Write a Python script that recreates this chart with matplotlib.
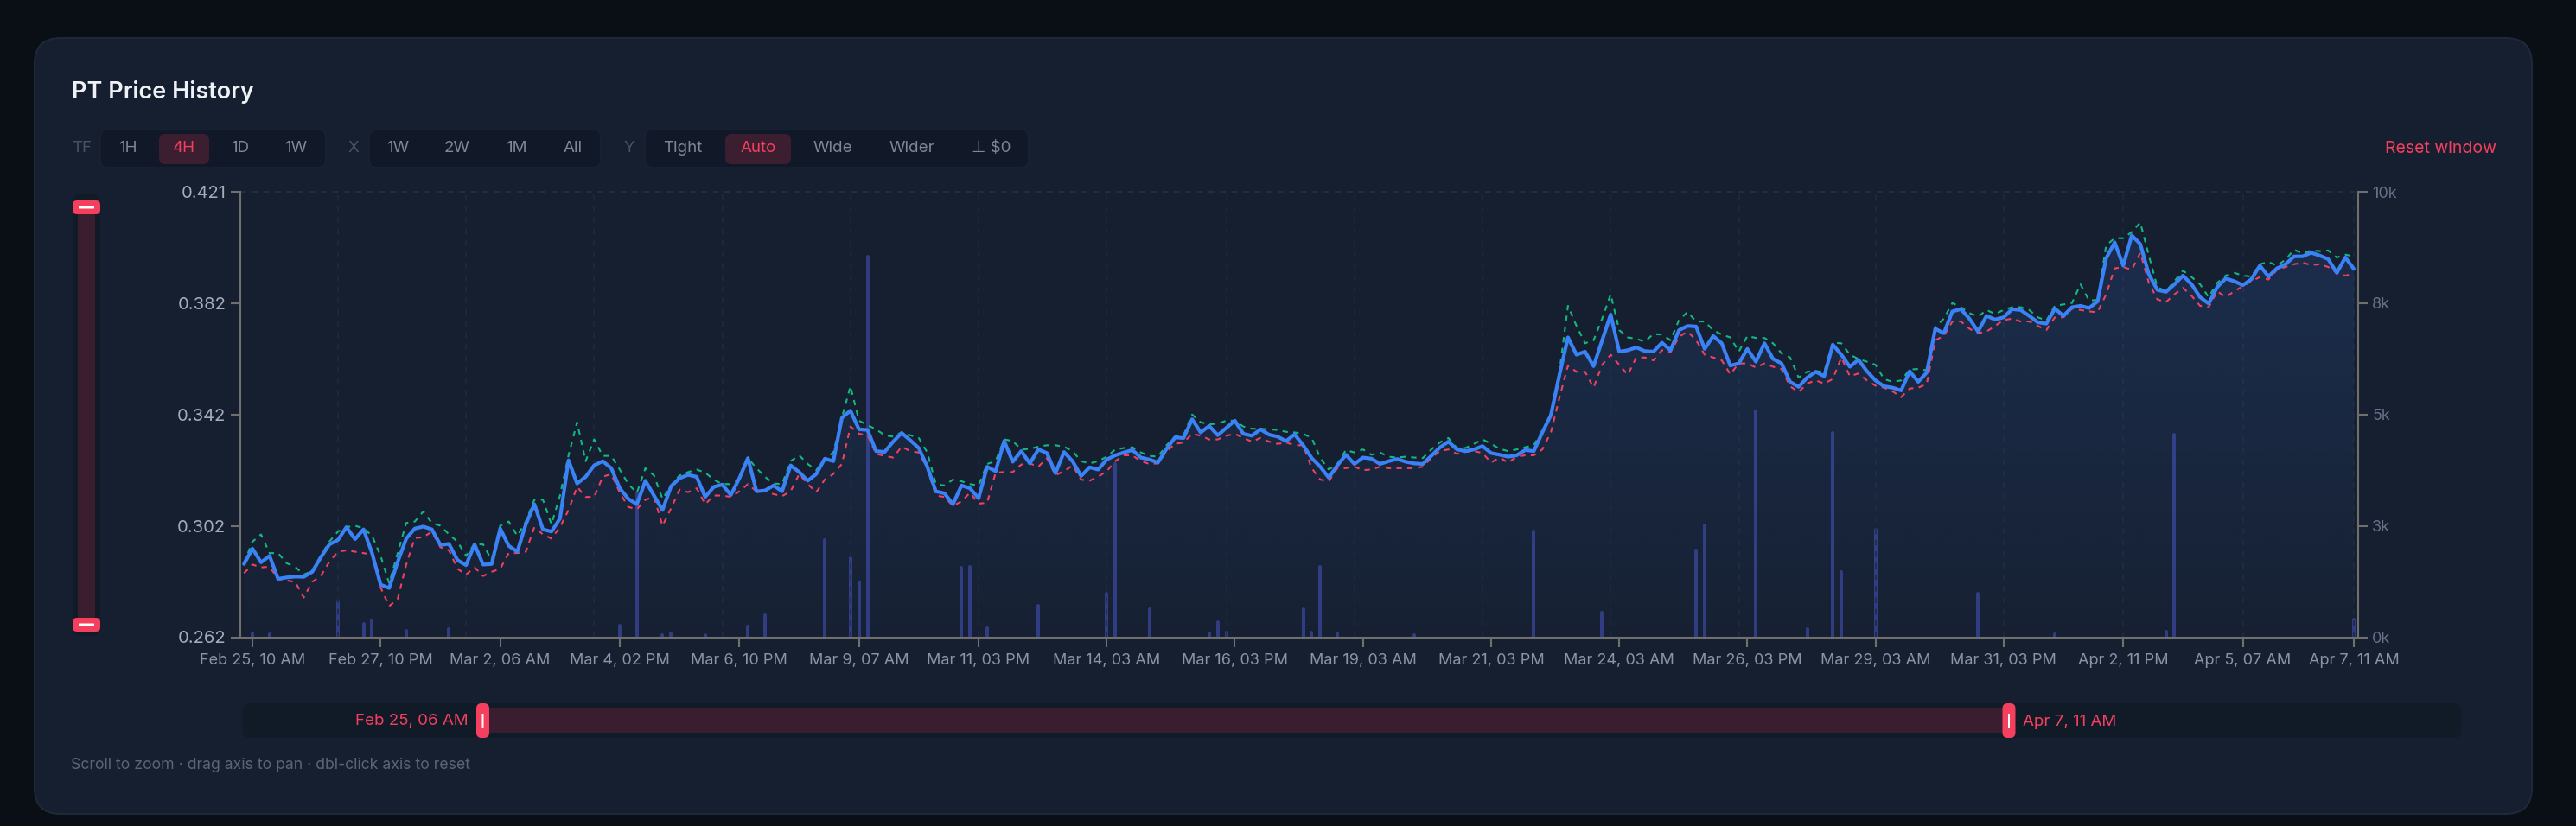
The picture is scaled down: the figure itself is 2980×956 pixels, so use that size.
import numpy as np
import pandas as pd
import matplotlib
matplotlib.use("Agg")
import matplotlib.pyplot as plt
from matplotlib.patches import FancyBboxPatch
from datetime import datetime

plt.rcParams['font.family'] = ['Inter', 'DejaVu Sans']

# ---------------- data ----------------
title = "PT Price History"
tz = "America/New_York"
start_time = "2025-02-25 06:00"   # first 4H candle
interval = "4h"

close = [
    0.2882, 0.2937, 0.2888, 0.2911, 0.2829, 0.2834, 0.2837, 0.2836, 0.2854, 0.2906,
    0.2952, 0.2968, 0.3014, 0.2971, 0.3006, 0.2921, 0.2808, 0.2796, 0.2890, 0.2973,
    0.3009, 0.3016, 0.3006, 0.2950, 0.2954, 0.2896, 0.2878, 0.2952, 0.2880, 0.2882,
    0.3009, 0.2947, 0.2926, 0.3024, 0.3096, 0.3006, 0.2998, 0.3045, 0.3253, 0.3170,
    0.3194, 0.3235, 0.3250, 0.3225, 0.3153, 0.3115, 0.3096, 0.3180, 0.3127, 0.3075,
    0.3160, 0.3189, 0.3201, 0.3194, 0.3122, 0.3158, 0.3166, 0.3129, 0.3189, 0.3261,
    0.3142, 0.3145, 0.3163,
    0.3142, 0.3235, 0.3211, 0.3180, 0.3204, 0.3259, 0.3250, 0.3405, 0.3431, 0.3364,
    0.3362, 0.3286, 0.3283, 0.3320, 0.3351, 0.3325, 0.3297, 0.3230, 0.3142, 0.3135,
    0.3096, 0.3163, 0.3153, 0.3117, 0.3230, 0.3214, 0.3322, 0.3248, 0.3286, 0.3242,
    0.3292, 0.3279, 0.3207, 0.3283, 0.3250, 0.3197, 0.3228, 0.3220, 0.3256, 0.3271,
    0.3281, 0.3290, 0.3263, 0.3256, 0.3245, 0.3294, 0.3335, 0.3333, 0.3400, 0.3353,
    0.3376, 0.3343, 0.3369, 0.3395, 0.3348, 0.3341, 0.3364, 0.3345, 0.3338, 0.3322,
    0.3346, 0.3307,
    0.3261, 0.3230, 0.3191, 0.3235, 0.3273, 0.3240, 0.3263, 0.3259, 0.3240, 0.3250,
    0.3258, 0.3248, 0.3242, 0.3240, 0.3269, 0.3299, 0.3320, 0.3292, 0.3286, 0.3292,
    0.3304, 0.3279, 0.3273, 0.3266, 0.3271, 0.3290, 0.3286, 0.3353, 0.3415, 0.3559,
    0.3693, 0.3631, 0.3642, 0.3590, 0.3683, 0.3775, 0.3642, 0.3647, 0.3657, 0.3644,
    0.3642, 0.3674, 0.3647, 0.3719, 0.3734, 0.3732, 0.3652, 0.3698, 0.3672, 0.3592,
    0.3600, 0.3652, 0.3606, 0.3672, 0.3616, 0.3600, 0.3534, 0.3516, 0.3549, 0.3570,
    0.3554,
    0.3667, 0.3631, 0.3588, 0.3613, 0.3572, 0.3539, 0.3518, 0.3513, 0.3503, 0.3572,
    0.3534, 0.3567, 0.3724, 0.3708, 0.3786, 0.3794, 0.3760, 0.3714, 0.3770, 0.3757,
    0.3765, 0.3794, 0.3791, 0.3770, 0.3747, 0.3742, 0.3796, 0.3770, 0.3801, 0.3806,
    0.3798, 0.3822, 0.3976, 0.4033, 0.3950, 0.4058, 0.4027, 0.3919, 0.3863, 0.3856,
    0.3883, 0.3914, 0.3883, 0.3837, 0.3814, 0.3873, 0.3904, 0.3894, 0.3880, 0.3901,
    0.3950, 0.3911, 0.3940, 0.3955, 0.3983, 0.3983, 0.3996, 0.3986, 0.3973, 0.3924,
    0.3979, 0.3938,
]

high = [
    0.2885, 0.2962, 0.2988, 0.2921, 0.2921, 0.2885, 0.2872, 0.2844, 0.2857, 0.2911,
    0.2962, 0.2998, 0.3014, 0.3019, 0.3010, 0.2983, 0.2911, 0.2813, 0.2921, 0.3029,
    0.3034, 0.3070, 0.3029, 0.3019, 0.2988, 0.2962, 0.2911, 0.2954, 0.2952, 0.2896,
    0.3019, 0.3034, 0.2983, 0.3034, 0.3112, 0.3112, 0.3024, 0.3127, 0.3271, 0.3389,
    0.3250, 0.3328, 0.3269, 0.3269, 0.3220, 0.3168, 0.3137, 0.3225, 0.3199, 0.3115,
    0.3163, 0.3199, 0.3211, 0.3220, 0.3209, 0.3184, 0.3168, 0.3168, 0.3184, 0.3261,
    0.3225, 0.3194, 0.3170,
    0.3168, 0.3250, 0.3271, 0.3240, 0.3218, 0.3259, 0.3281, 0.3405, 0.3518, 0.3395,
    0.3379, 0.3364, 0.3343, 0.3338, 0.3353, 0.3343, 0.3333, 0.3281, 0.3168, 0.3163,
    0.3184, 0.3178, 0.3168, 0.3163, 0.3240, 0.3250, 0.3328, 0.3322, 0.3292, 0.3294,
    0.3302, 0.3307, 0.3307, 0.3302, 0.3286, 0.3250, 0.3242, 0.3250, 0.3266, 0.3292,
    0.3297, 0.3300, 0.3281, 0.3269, 0.3266, 0.3307, 0.3338, 0.3343, 0.3417, 0.3389,
    0.3382, 0.3384, 0.3395, 0.3395, 0.3374, 0.3366, 0.3366, 0.3364, 0.3362, 0.3355,
    0.3353, 0.3348,
    0.3333, 0.3261, 0.3220, 0.3240, 0.3290, 0.3281, 0.3292, 0.3273, 0.3281, 0.3266,
    0.3263, 0.3266, 0.3263, 0.3261, 0.3292, 0.3317, 0.3333, 0.3297, 0.3297, 0.3312,
    0.3328, 0.3312, 0.3294, 0.3286, 0.3292, 0.3300, 0.3307, 0.3360, 0.3415, 0.3570,
    0.3806, 0.3734, 0.3672, 0.3683, 0.3760, 0.3847, 0.3719, 0.3693, 0.3688, 0.3678,
    0.3705, 0.3703, 0.3683, 0.3755, 0.3784, 0.3750, 0.3750, 0.3719, 0.3703, 0.3693,
    0.3642, 0.3698, 0.3691, 0.3691, 0.3672, 0.3636, 0.3621, 0.3549, 0.3570, 0.3572,
    0.3570,
    0.3674, 0.3672, 0.3631, 0.3616, 0.3606, 0.3595, 0.3544, 0.3534, 0.3539, 0.3578,
    0.3580, 0.3575, 0.3729, 0.3760, 0.3816, 0.3801, 0.3780, 0.3767, 0.3791, 0.3777,
    0.3791, 0.3801, 0.3801, 0.3791, 0.3765, 0.3753, 0.3806, 0.3811, 0.3816, 0.3883,
    0.3825, 0.3827, 0.4022, 0.4048, 0.4048, 0.4070, 0.4104, 0.3986, 0.3873, 0.3858,
    0.3894, 0.3932, 0.3909, 0.3883, 0.3837, 0.3888, 0.3914, 0.3924, 0.3914, 0.3911,
    0.3955, 0.3963, 0.3950, 0.3971, 0.4007, 0.3993, 0.4004, 0.4002, 0.4004, 0.3979,
    0.3989, 0.3983,
]

low = [
    0.2849, 0.2880, 0.2870, 0.2872, 0.2829, 0.2823, 0.2818, 0.2762, 0.2818, 0.2839,
    0.2890, 0.2926, 0.2931, 0.2926, 0.2921, 0.2916, 0.2798, 0.2731, 0.2757, 0.2880,
    0.2975, 0.2978, 0.2998, 0.2942, 0.2931, 0.2865, 0.2844, 0.2870, 0.2839, 0.2854,
    0.2865, 0.2921, 0.2921, 0.2926, 0.3014, 0.2988, 0.2973, 0.3014, 0.3075, 0.3158,
    0.3122, 0.3122, 0.3194, 0.3204, 0.3137, 0.3086, 0.3078, 0.3112, 0.3122, 0.3019,
    0.3081, 0.3148, 0.3139, 0.3153, 0.3096, 0.3127, 0.3127, 0.3122, 0.3142, 0.3168,
    0.3142, 0.3142, 0.3132,
    0.3125, 0.3142, 0.3204, 0.3168, 0.3139, 0.3184, 0.3204, 0.3240, 0.3374, 0.3348,
    0.3343, 0.3276, 0.3269, 0.3263, 0.3302, 0.3286, 0.3281, 0.3225, 0.3127, 0.3122,
    0.3090, 0.3106, 0.3137, 0.3098, 0.3101, 0.3209, 0.3211, 0.3211, 0.3238, 0.3242,
    0.3230, 0.3261, 0.3200, 0.3214, 0.3235, 0.3184, 0.3180, 0.3194, 0.3214, 0.3250,
    0.3271, 0.3271, 0.3250, 0.3240, 0.3242, 0.3285, 0.3312, 0.3317, 0.3348, 0.3341,
    0.3328, 0.3328, 0.3341, 0.3348, 0.3333, 0.3320, 0.3333, 0.3320, 0.3312, 0.3317,
    0.3307, 0.3307,
    0.3225, 0.3184, 0.3178, 0.3225, 0.3225, 0.3230, 0.3218, 0.3220, 0.3230, 0.3225,
    0.3225, 0.3225, 0.3225, 0.3230, 0.3261, 0.3286, 0.3292, 0.3276, 0.3283, 0.3286,
    0.3279, 0.3245, 0.3263, 0.3245, 0.3266, 0.3271, 0.3271, 0.3292, 0.3353, 0.3477,
    0.3592, 0.3570, 0.3570, 0.3513, 0.3595, 0.3631, 0.3595, 0.3559, 0.3621, 0.3621,
    0.3611, 0.3647, 0.3640, 0.3695, 0.3714, 0.3683, 0.3631, 0.3621, 0.3611, 0.3561,
    0.3600, 0.3600, 0.3585, 0.3600, 0.3588, 0.3580, 0.3518, 0.3497, 0.3528, 0.3539,
    0.3528,
    0.3544, 0.3621, 0.3554, 0.3564, 0.3539, 0.3520, 0.3513, 0.3500, 0.3479, 0.3510,
    0.3513, 0.3526, 0.3683, 0.3698, 0.3750, 0.3750, 0.3724, 0.3708, 0.3714, 0.3734,
    0.3755, 0.3760, 0.3750, 0.3750, 0.3734, 0.3719, 0.3765, 0.3765, 0.3796, 0.3791,
    0.3786, 0.3783, 0.3847, 0.3940, 0.3945, 0.3935, 0.3996, 0.3888, 0.3829, 0.3819,
    0.3847, 0.3870, 0.3842, 0.3806, 0.3801, 0.3858, 0.3837, 0.3858, 0.3876, 0.3894,
    0.3909, 0.3900, 0.3935, 0.3945, 0.3955, 0.3960, 0.3952, 0.3955, 0.3945, 0.3924,
    0.3914, 0.3921,
]

# volume: candle index -> traded volume (all other candles ~0)
volume_candle = [1, 3, 11, 14, 15, 19, 24, 44, 46, 49, 50, 54, 59, 61, 68, 71, 72, 73,
                 84, 85, 87, 93, 101, 102, 106, 113, 114, 115, 124, 125, 126, 128, 137,
                 151, 159, 170, 171, 177, 183, 186, 187, 191, 203, 212, 225, 226, 247]
volume_value = [80, 60, 790, 310, 370, 145, 180, 270, 3250, 50, 90, 50, 240, 500, 2180,
                1770, 1240, 8550, 1570, 1580, 210, 710, 970, 3880, 630, 90, 330, 110,
                630, 110, 1580, 80, 40, 2380, 550, 1940, 2510, 5070, 180, 4580, 1470,
                2420, 970, 70, 130, 4550, 390]

x_tick_labels = ["Feb 25, 10 AM", "Feb 27, 10 PM", "Mar 2, 06 AM", "Mar 4, 02 PM",
                 "Mar 6, 10 PM", "Mar 9, 07 AM", "Mar 11, 03 PM", "Mar 14, 03 AM",
                 "Mar 16, 03 PM", "Mar 19, 03 AM", "Mar 21, 03 PM", "Mar 24, 03 AM",
                 "Mar 26, 03 PM", "Mar 29, 03 AM", "Mar 31, 03 PM", "Apr 2, 11 PM",
                 "Apr 5, 07 AM", "Apr 7, 11 AM"]
price_range = (0.2620, 0.4214)
volume_range = (0, 10000)
volume_ticks = [0, 2500, 5000, 7500, 10000]
volume_tick_labels = ["0k", "3k", "5k", "8k", "10k"]
grid_hours = [44, 104, 164, 224, 284, 344, 404, 460, 520, 580, 640, 700, 764, 824, 880, 936, 988]

tf_buttons = ["1H", "4H", "1D", "1W"]
x_buttons = ["1W", "2W", "1M", "All"]
y_buttons = ["Tight", "Auto", "Wide", "Wider", "\u22a5 $0"]

# ---------------- colours ----------------
PAGE = "#0a0e15"
CARD = "#161f2f"
GROUP = "#111827"
ACTIVE_BG = "#3b1e2f"
RED = "#f43f5e"
GREEN = "#10b981"
BLUE = "#3b82f6"
AXIS = "#6f6f6f"
VOL = "#313c80"

W, H = 2980, 956
fig = plt.figure(figsize=(W / 100, H / 100), dpi=100)
fig.patch.set_facecolor(PAGE)


def box(x0, y0, x1, y1, r, fc, ec="none", lw=0, z=-5):
    p = FancyBboxPatch((x0 / 100, (H - y1) / 100), (x1 - x0) / 100, (y1 - y0) / 100,
                       boxstyle=f"round,pad=0,rounding_size={r / 100}",
                       transform=fig.dpi_scale_trans, fc=fc, ec=ec, lw=lw, zorder=z)
    fig.add_artist(p)
    return p


def text(x, y, s, **kw):
    kw.setdefault("va", "center")
    kw.setdefault("zorder", 20)
    return fig.text(x / W, 1 - y / H, s, **kw)


# card
box(40, 44, 2929, 942, 30, CARD, ec="#1e2839", lw=1.5, z=-10)

# title
text(83, 107, title, fontsize=19.5, color="#eef2f7", weight="semibold", ha="left")

# controls row
CY = 172
BTN = dict(fontsize=13.5, color="#7d879a", ha="center")
text(95, CY, "TF", fontsize=13.5, color="#485266", ha="center")
box(116, 150, 377, 194, 9, GROUP, ec="#1a2335", lw=1)
box(184, 155, 242, 190, 7, ACTIVE_BG)
for lab, cx in zip(tf_buttons, [148, 213, 278, 342]):
    text(cx, CY, lab, **dict(BTN, color=RED if lab == "4H" else BTN["color"]))
text(409, CY, "X", fontsize=13.5, color="#485266", ha="center")
box(427, 150, 695, 194, 9, GROUP, ec="#1a2335", lw=1)
for lab, cx in zip(x_buttons, [460, 529, 597, 663]):
    text(cx, CY, lab, **BTN)
text(728, CY, "Y", fontsize=13.5, color="#485266", ha="center")
box(746, 150, 1190, 194, 9, GROUP, ec="#1a2335", lw=1)
box(839, 155, 915, 190, 7, ACTIVE_BG)
for lab, cx in zip(y_buttons, [790, 877, 963, 1055, 1147]):
    text(cx, CY, lab, **dict(BTN, color=RED if lab == "Auto" else BTN["color"]))
text(2888, CY, "Reset window", fontsize=14, color=RED, ha="right")

# ---------------- main chart ----------------
times = pd.date_range(start_time, periods=len(close), freq=interval, tz=tz)
hrs = ((times - times[0]) / pd.Timedelta(hours=1)).to_numpy(dtype=float)
tick_times = [pd.Timestamp(datetime.strptime("2025 " + s, "%Y %b %d, %I %p")).tz_localize(tz)
              for s in x_tick_labels]
tick_hrs = [(t - times[0]) / pd.Timedelta(hours=1) for t in tick_times]

L, R, T, B = 278, 2727.7, 222, 737.5
ax = fig.add_axes([L / W, (H - B) / H, (R - L) / W, (B - T) / H])
ax2 = ax.twinx()
ax.set_zorder(2)
ax2.set_zorder(1)
ax.patch.set_visible(False)
ax2.patch.set_visible(False)

xlim = (-1.7, 989.9)
ax.set_xlim(*xlim)
ax.set_ylim(*price_range)
ax2.set_ylim(*volume_range)

# volume bars
vx = hrs[volume_candle]
vl = ax2.vlines(vx, 0, volume_value, colors=VOL, linewidth=2.9)
vl.set_capstyle("round")

# grid
for gh in grid_hours:
    ax.axvline(gh, color="#1e293c", lw=1.2, ls=(0, (4, 4)), zorder=0)
ax.axhline(price_range[1], color="#25314a", lw=1.2, ls=(0, (4, 4)), zorder=0, clip_on=False)

# gradient area under close
fill = ax.fill_between(hrs, close, price_range[0], color="none", lw=0)
alpha = np.linspace(0.17, 0.02, 256)
rgba = np.zeros((256, 1, 4))
rgba[:, 0, 0] = 59 / 255
rgba[:, 0, 1] = 130 / 255
rgba[:, 0, 2] = 246 / 255
rgba[:, 0, 3] = alpha
im = ax.imshow(rgba, extent=[xlim[0], xlim[1], price_range[0], price_range[1]],
               aspect="auto", origin="upper", zorder=1, interpolation="bilinear")
im.set_clip_path(fill.get_paths()[0], transform=ax.transData)

# lines
ax.plot(hrs, high, color=GREEN, lw=1.5, ls=(0, (3, 3)), zorder=3)
ax.plot(hrs, low, color=RED, lw=1.5, ls=(0, (3, 3)), zorder=3)
ax.plot(hrs, close, color=BLUE, lw=3.0, zorder=4, solid_joinstyle="round",
        solid_capstyle="round")

ax.set_xlim(*xlim)
ax.set_ylim(*price_range)

# axes styling
for s in ["top", "right"]:
    ax.spines[s].set_visible(False)
for s in ["top", "left", "bottom"]:
    ax2.spines[s].set_visible(False)
for sp in [ax.spines["left"], ax.spines["bottom"], ax2.spines["right"]]:
    sp.set_color(AXIS)
    sp.set_linewidth(1.5)

yt = np.linspace(price_range[0], price_range[1], 5)
ax.set_yticks(yt)
ax.set_yticklabels([f"{v:.3f}" for v in yt])
ax.set_xticks(tick_hrs)
ax.set_xticklabels(x_tick_labels)
ax.tick_params(axis="y", length=8, width=1.5, color=AXIS, labelcolor="#a4adbc",
               labelsize=14.5, pad=4)
ax.tick_params(axis="x", length=8, width=1.5, color=AXIS, labelcolor="#8a94a6",
               labelsize=13, pad=5)
ax2.set_yticks(volume_ticks)
ax2.set_yticklabels(volume_tick_labels)
ax2.tick_params(axis="y", length=8, width=1.5, color=AXIS, labelcolor="#66718a",
                labelsize=13, pad=4)

# ---------------- left vertical slider ----------------
box(84, 224, 116, 736, 10, "#111a27", z=5)
box(90, 240, 110, 723, 0.1, "#3a1e2f", z=6)
for y0 in (232, 715):
    box(84, y0, 116, y0 + 16, 5, RED, z=7)
    box(91, y0 + 6.5, 109, y0 + 9.5, 0.5, "white", z=8)

# ---------------- bottom range slider ----------------
box(281, 814, 2847, 854, 8, "#111a27", z=5)
box(558, 820, 2324, 848, 0.1, "#3a1e2f", z=6)
for hx in (558.5, 2324):
    box(hx - 7.5, 814, hx + 7.5, 854, 6, RED, z=7)
    box(hx - 1, 826, hx + 1, 842, 0.3, "white", z=8)
t_first, t_last = times[0], times[-1]
text(542, 835, f"{t_first:%b} {t_first.day}, {t_first:%I %p}", fontsize=13.5, color=RED, ha="right")
text(2340, 835, f"{t_last:%b} {t_last.day}, {t_last:%I %p}", fontsize=13.5, color=RED, ha="left")

text(82, 886, "Scroll to zoom \u00b7 drag axis to pan \u00b7 dbl-click axis to reset",
     fontsize=12.7, color="#5b6578", ha="left")

fig.savefig("out.png", dpi=100, facecolor=PAGE)
